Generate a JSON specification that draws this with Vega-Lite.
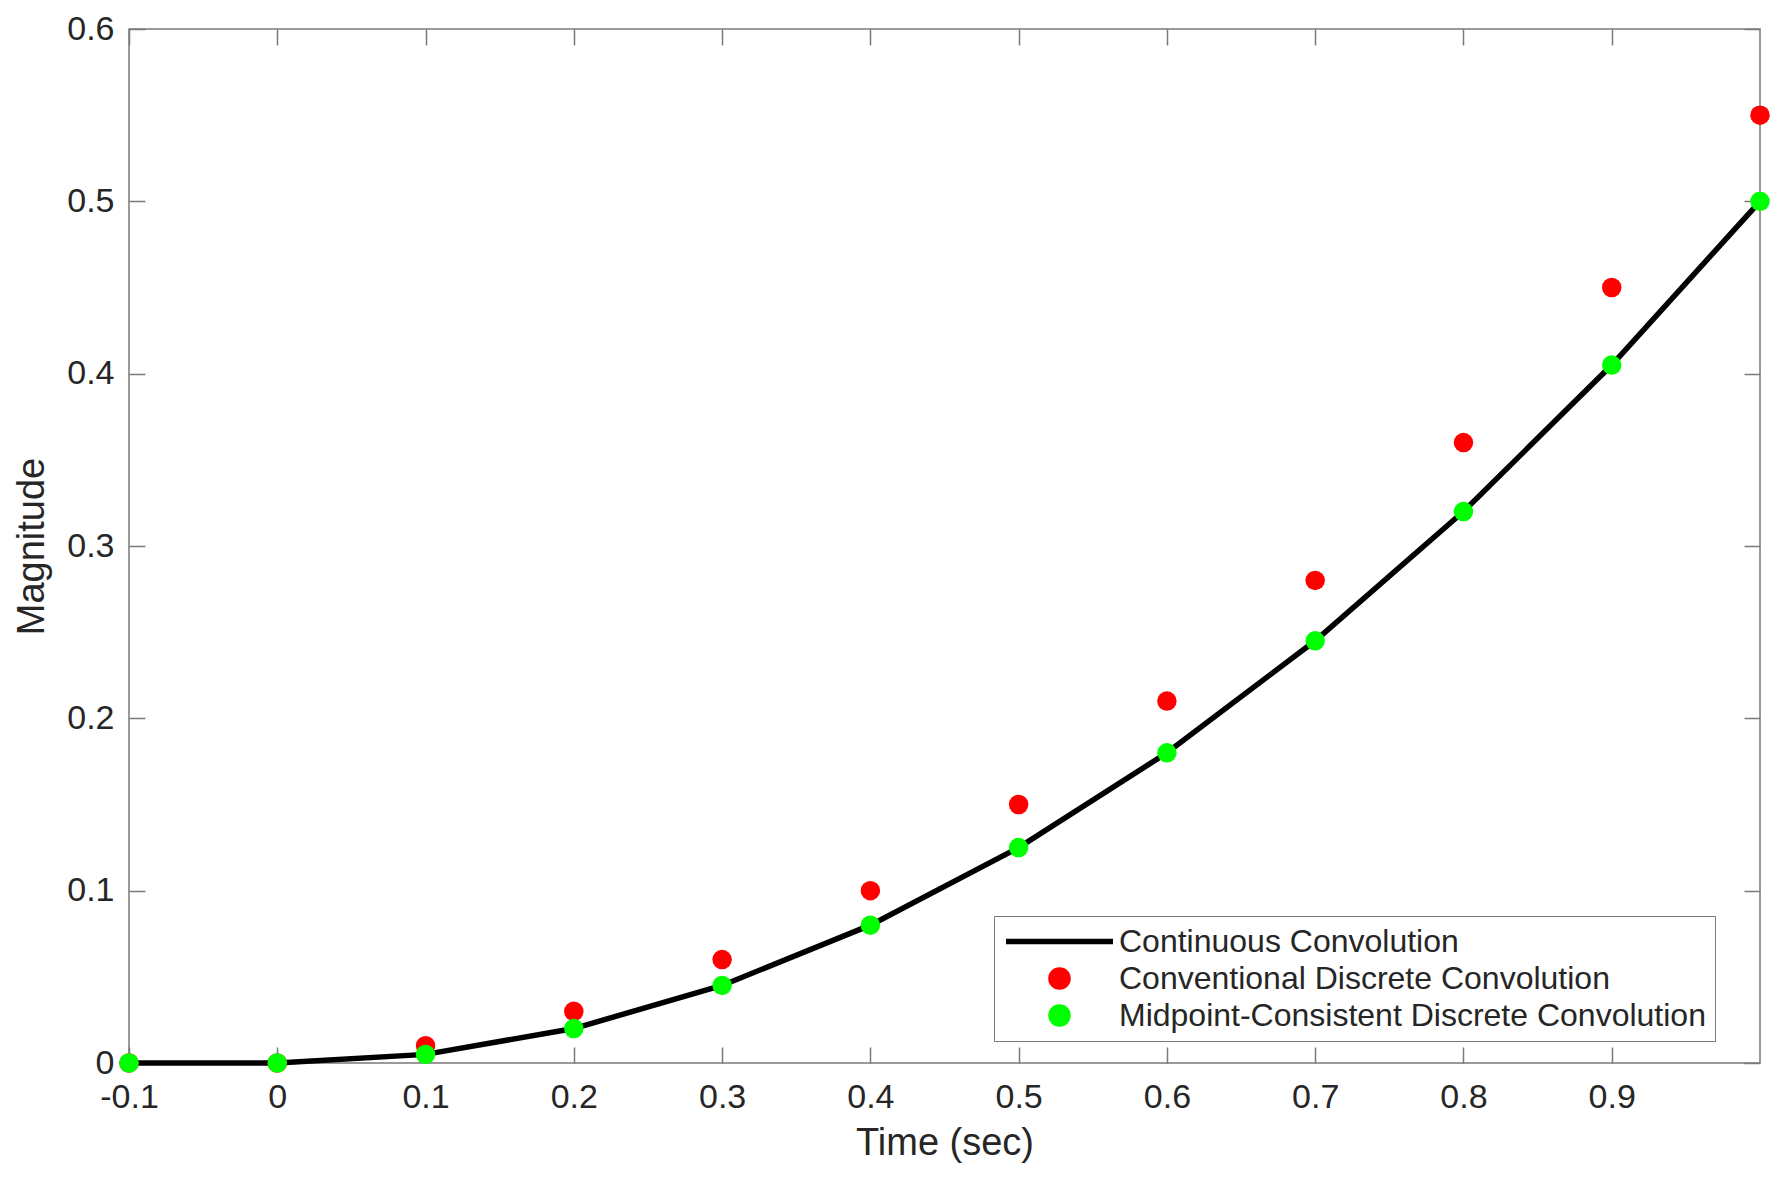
{
  "$schema": "https://vega.github.io/schema/vega-lite/v6.json",
  "width": 1631,
  "height": 1034,
  "autosize": {"type": "none"},
  "padding": {"left": 129, "top": 29, "right": 26, "bottom": 116},
  "background": "white",
  "config": {
    "view": {"stroke": "#7a7a7a", "strokeWidth": 1.5},
    "font": "Liberation Sans",
    "axis": {
      "domain": false,
      "grid": false,
      "tickColor": "#7a7a7a",
      "tickWidth": 1.5,
      "tickSize": -16,
      "labelFont": "Liberation Sans",
      "labelFontSize": 34,
      "labelColor": "#262626",
      "labelFlush": false,
      "labelOverlap": false,
      "titleFont": "Liberation Sans",
      "titleFontSize": 38,
      "titleColor": "#262626",
      "titleFontWeight": "normal"
    }
  },
  "resolve": {"axis": {"x": "independent", "y": "independent"}},
  "data": {
    "values": [
      {"t": -0.1, "y": 0, "series": "Continuous Convolution"},
      {"t": 0, "y": 0, "series": "Continuous Convolution"},
      {"t": 0.1, "y": 0.005, "series": "Continuous Convolution"},
      {"t": 0.2, "y": 0.02, "series": "Continuous Convolution"},
      {"t": 0.3, "y": 0.045, "series": "Continuous Convolution"},
      {"t": 0.4, "y": 0.08, "series": "Continuous Convolution"},
      {"t": 0.5, "y": 0.125, "series": "Continuous Convolution"},
      {"t": 0.6, "y": 0.18, "series": "Continuous Convolution"},
      {"t": 0.7, "y": 0.245, "series": "Continuous Convolution"},
      {"t": 0.8, "y": 0.32, "series": "Continuous Convolution"},
      {"t": 0.9, "y": 0.405, "series": "Continuous Convolution"},
      {"t": 1.0, "y": 0.5, "series": "Continuous Convolution"},
      {"t": -0.1, "y": 0, "series": "Conventional Discrete Convolution"},
      {"t": 0, "y": 0, "series": "Conventional Discrete Convolution"},
      {"t": 0.1, "y": 0.01, "series": "Conventional Discrete Convolution"},
      {"t": 0.2, "y": 0.03, "series": "Conventional Discrete Convolution"},
      {"t": 0.3, "y": 0.06, "series": "Conventional Discrete Convolution"},
      {"t": 0.4, "y": 0.1, "series": "Conventional Discrete Convolution"},
      {"t": 0.5, "y": 0.15, "series": "Conventional Discrete Convolution"},
      {"t": 0.6, "y": 0.21, "series": "Conventional Discrete Convolution"},
      {"t": 0.7, "y": 0.28, "series": "Conventional Discrete Convolution"},
      {"t": 0.8, "y": 0.36, "series": "Conventional Discrete Convolution"},
      {"t": 0.9, "y": 0.45, "series": "Conventional Discrete Convolution"},
      {"t": 1.0, "y": 0.55, "series": "Conventional Discrete Convolution"},
      {"t": -0.1, "y": 0, "series": "Midpoint-Consistent Discrete Convolution"},
      {"t": 0, "y": 0, "series": "Midpoint-Consistent Discrete Convolution"},
      {"t": 0.1, "y": 0.005, "series": "Midpoint-Consistent Discrete Convolution"},
      {"t": 0.2, "y": 0.02, "series": "Midpoint-Consistent Discrete Convolution"},
      {"t": 0.3, "y": 0.045, "series": "Midpoint-Consistent Discrete Convolution"},
      {"t": 0.4, "y": 0.08, "series": "Midpoint-Consistent Discrete Convolution"},
      {"t": 0.5, "y": 0.125, "series": "Midpoint-Consistent Discrete Convolution"},
      {"t": 0.6, "y": 0.18, "series": "Midpoint-Consistent Discrete Convolution"},
      {"t": 0.7, "y": 0.245, "series": "Midpoint-Consistent Discrete Convolution"},
      {"t": 0.8, "y": 0.32, "series": "Midpoint-Consistent Discrete Convolution"},
      {"t": 0.9, "y": 0.405, "series": "Midpoint-Consistent Discrete Convolution"},
      {"t": 1.0, "y": 0.5, "series": "Midpoint-Consistent Discrete Convolution"}
    ]
  },
  "layer": [
    {
      "transform": [{"filter": "datum.series === 'Continuous Convolution'"}],
      "mark": {"type": "line", "strokeWidth": 5.5},
      "encoding": {
        "x": {
          "field": "t",
          "type": "quantitative",
          "scale": {"domain": [-0.1, 1], "nice": false, "zero": false},
          "axis": {
            "orient": "bottom",
            "values": [-0.1, 0, 0.1, 0.2, 0.3, 0.4, 0.5, 0.6, 0.7, 0.8, 0.9],
            "labelExpr": "datum.value < 0 ? '-' + format(-datum.value, '~g') : format(datum.value, '~g')",
            "labelPadding": 33,
            "title": "Time (sec)",
            "titlePadding": 10
          }
        },
        "y": {
          "field": "y",
          "type": "quantitative",
          "scale": {"domain": [0, 0.6], "nice": false},
          "axis": {
            "orient": "left",
            "values": [0, 0.1, 0.2, 0.3, 0.4, 0.5, 0.6],
            "labelExpr": "format(datum.value, '~g')",
            "labelPadding": 31,
            "title": "Magnitude",
            "titlePadding": 15
          }
        },
        "color": {
          "field": "series",
          "type": "nominal",
          "scale": {
            "domain": ["Continuous Convolution", "Conventional Discrete Convolution", "Midpoint-Consistent Discrete Convolution"],
            "range": ["#000000", "#ff0000", "#00ff00"]
          },
          "legend": {
            "title": null,
            "orient": "none",
            "legendX": 865,
            "legendY": 887,
            "labelFont": "Liberation Sans",
            "labelFontSize": 32,
            "labelColor": "#262626",
            "labelLimit": 1000,
            "strokeColor": "#7a7a7a",
            "fillColor": "white",
            "padding": 9,
            "symbolSize": 11449,
            "symbolStrokeWidth": 5.5,
            "symbolType": "stroke",
            "clipHeight": 33,
            "rowPadding": 4,
            "labelOffset": 3,
            "encode": {
              "symbols": {
                "update": {
                  "shape": {"signal": "datum.value === 'Continuous Convolution' ? 'stroke' : 'M-0.16,0A0.16,0.16 0 1,0 0.16,0A0.16,0.16 0 1,0 -0.16,0Z'"},
                  "size": {"value": 11449},
                  "strokeWidth": {"value": 5.5},
                  "stroke": {"signal": "datum.value === 'Continuous Convolution' ? '#000000' : 'transparent'"},
                  "fill": {"signal": "datum.value === 'Conventional Discrete Convolution' ? '#ff0000' : datum.value === 'Continuous Convolution' ? 'transparent' : '#00ff00'"},
                  "opacity": {"value": 1}
                }
              }
            }
          }
        }
      }
    },
    {
      "transform": [{"filter": "datum.series !== 'Continuous Convolution'"}],
      "mark": {"type": "point", "filled": true, "size": 380, "opacity": 1},
      "encoding": {
        "x": {
          "field": "t",
          "type": "quantitative",
          "axis": {
            "orient": "top",
            "labels": false,
            "title": null,
            "values": [-0.1, 0, 0.1, 0.2, 0.3, 0.4, 0.5, 0.6, 0.7, 0.8, 0.9]
          }
        },
        "y": {
          "field": "y",
          "type": "quantitative",
          "axis": {
            "orient": "right",
            "labels": false,
            "title": null,
            "values": [0, 0.1, 0.2, 0.3, 0.4, 0.5, 0.6]
          }
        },
        "color": {"field": "series", "type": "nominal"}
      }
    }
  ]
}
